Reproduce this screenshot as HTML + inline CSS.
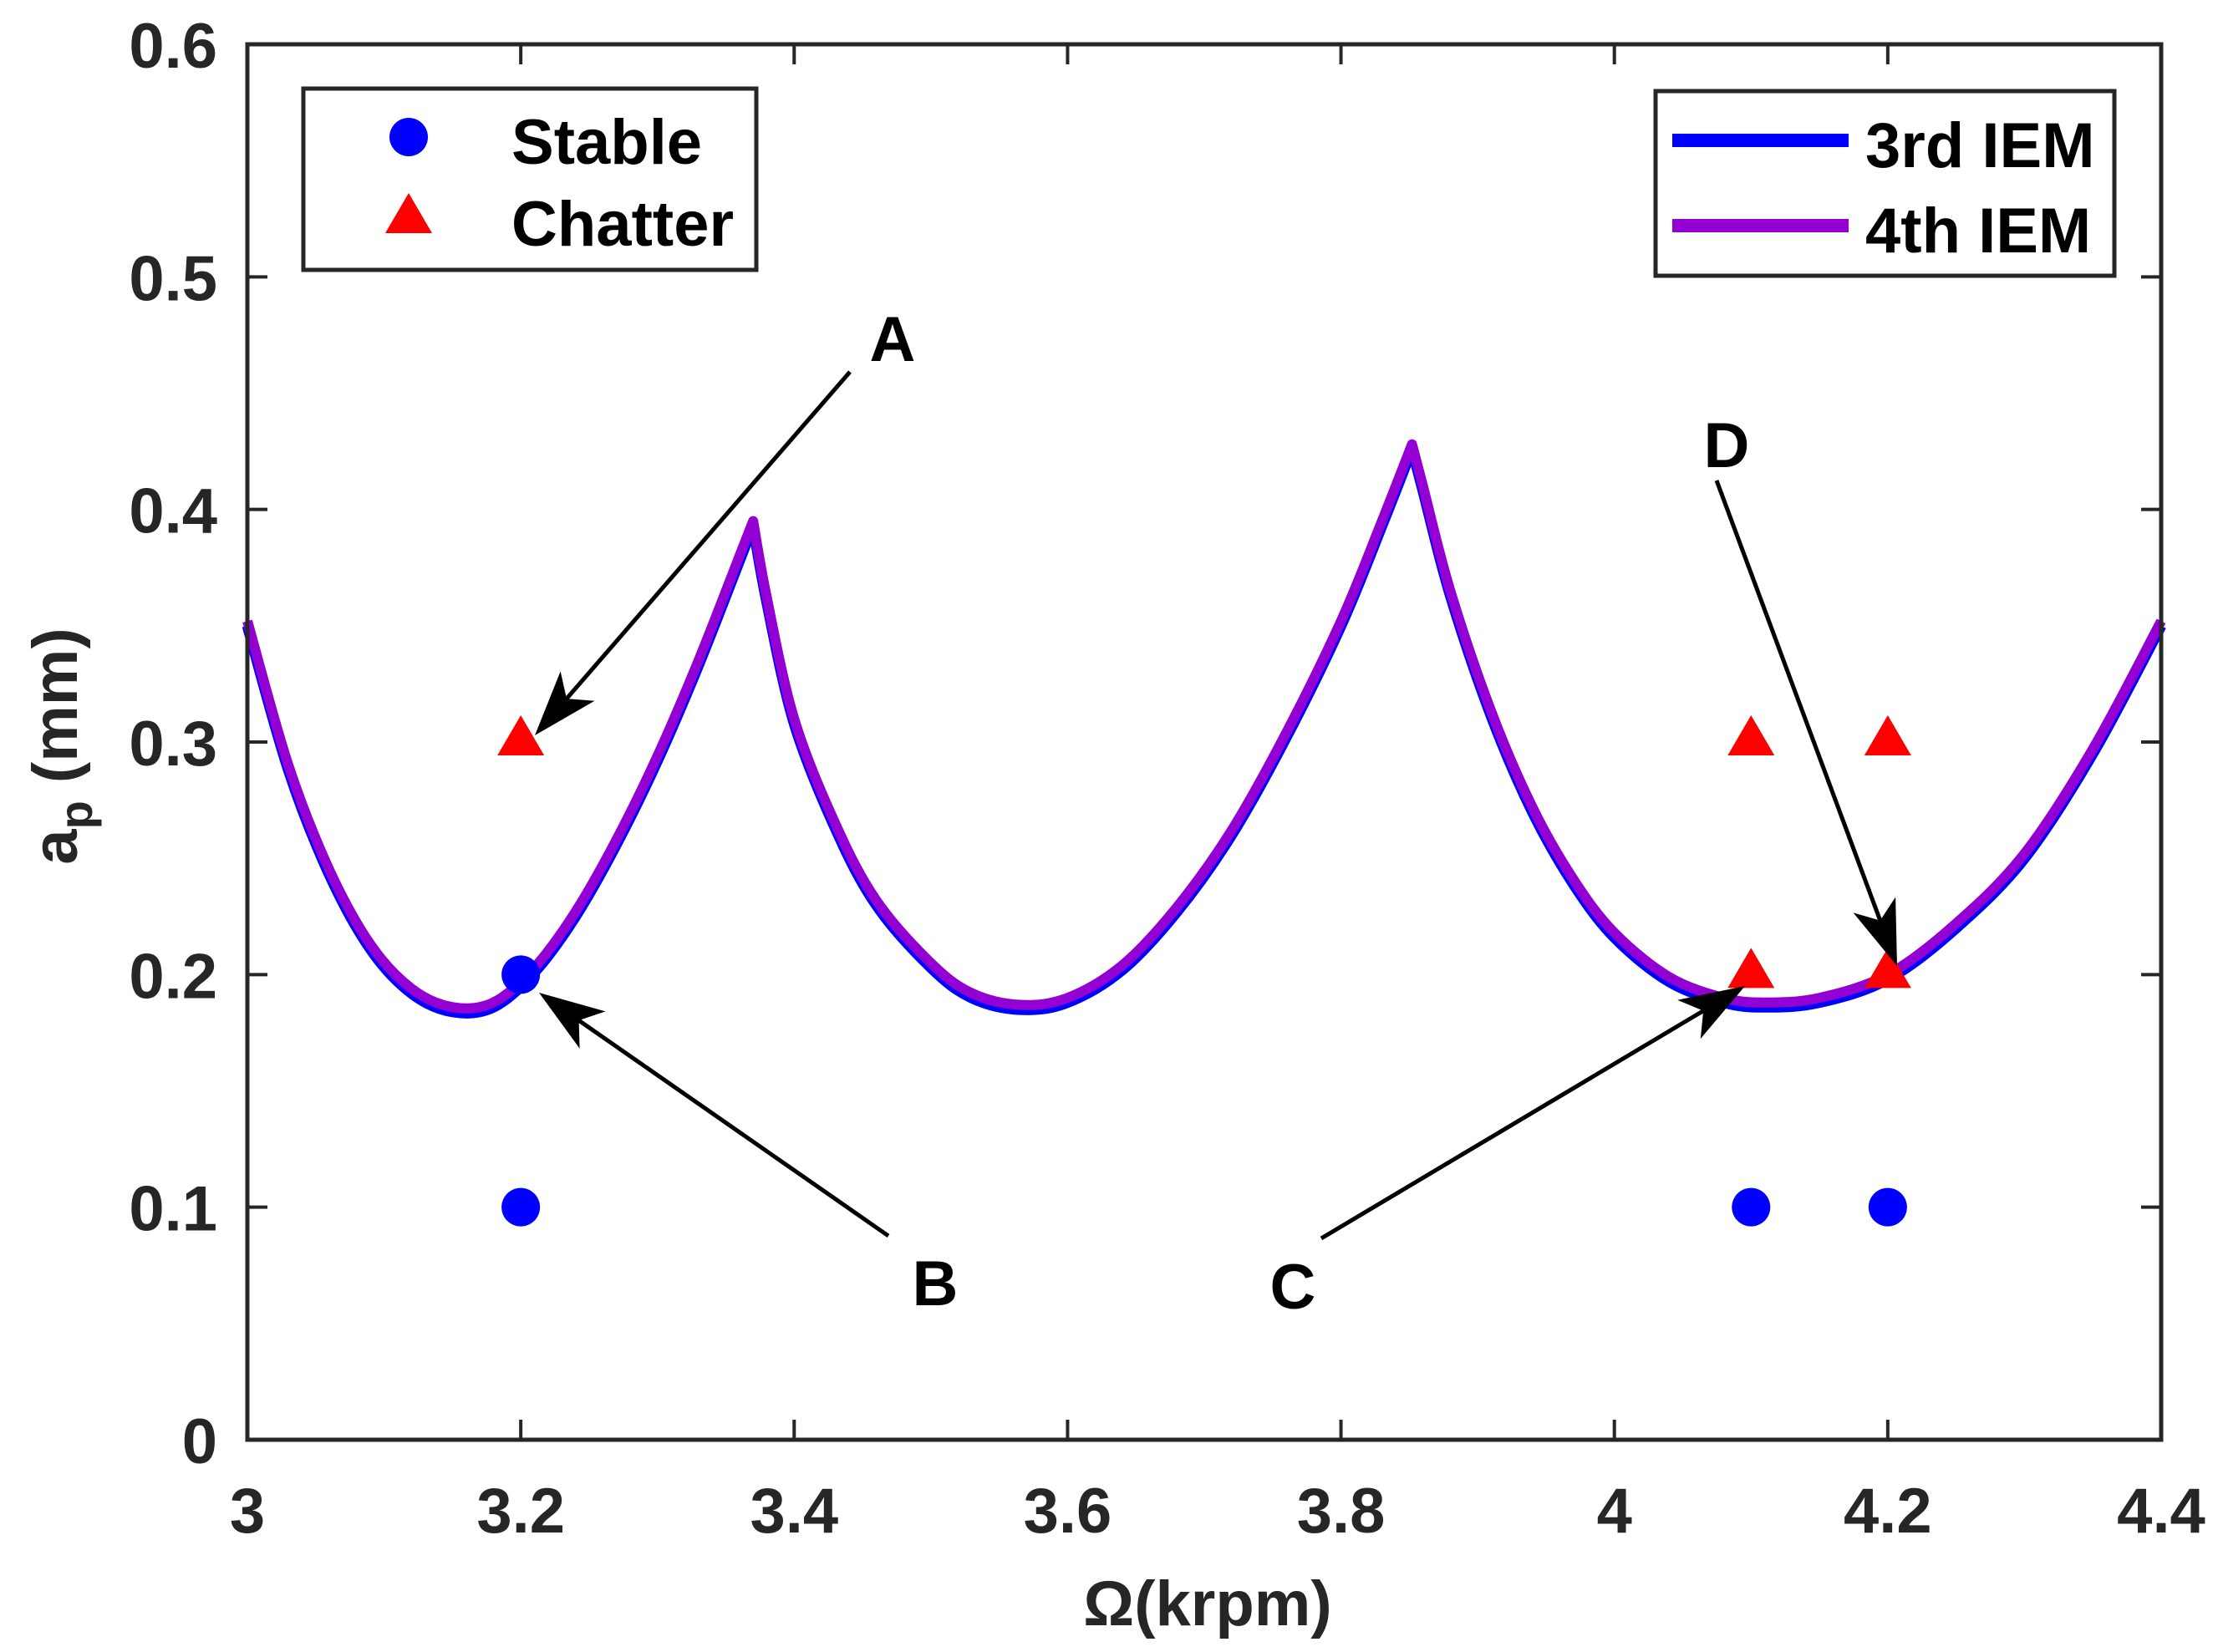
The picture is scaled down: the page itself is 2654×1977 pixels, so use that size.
<!DOCTYPE html>
<html><head><meta charset="utf-8"><style>
html,body{margin:0;padding:0;background:#fff}
svg{display:block}
text{font-family:"Liberation Sans",sans-serif;font-weight:bold}
</style></head><body>
<svg id="chart" width="2654" height="1977" viewBox="0 0 2654 1977" xmlns="http://www.w3.org/2000/svg">
<rect x="296" y="53" width="2290" height="1670" fill="#fff" stroke="none"/>
<g id="lines"></g>
<g id="marks"></g>
<g id="annot"></g>
<g id="axes"></g>
<g>
<rect x="363" y="106" width="542" height="217" fill="#fff" stroke="#262626" stroke-width="5"/>
<circle cx="489" cy="164" r="23" fill="#0000ff"/>
<polygon points="489,231 461,279 517,279" fill="#ff0000"/>
<text x="612" y="196" font-size="76" fill="#000">Stable</text>
<text x="612" y="294" font-size="76" fill="#000">Chatter</text>
</g>
<g>
<rect x="1981" y="109" width="549" height="221" fill="#fff" stroke="#262626" stroke-width="5"/>
<line x1="2001" y1="168" x2="2212" y2="168" stroke="#0000ff" stroke-width="16"/>
<line x1="2001" y1="270" x2="2212" y2="270" stroke="#9400d3" stroke-width="16"/>
<text x="2232" y="200" font-size="76" fill="#000">3rd IEM</text>
<text x="2232" y="302" font-size="76" fill="#000">4th IEM</text>
</g>
<text x="1445" y="1945" font-size="76" fill="#262626" text-anchor="middle">Ω(krpm)</text>
<text transform="translate(92,893) rotate(-90)" font-size="76" fill="#262626" text-anchor="middle">a<tspan font-size="56" dy="18">p</tspan><tspan dy="-18"> (mm)</tspan></text>
</svg>
<script>
const curveX = [3.00,3.03,3.06,3.09,3.12,3.15,3.18,3.21,3.24,3.27,3.30,3.33,3.36,3.37,3.38,3.40,3.43,3.46,3.50,3.53,3.565,3.60,3.64,3.68,3.72,3.76,3.80,3.83,3.852,3.86,3.88,3.91,3.94,3.97,4.00,4.04,4.08,4.11,4.15,4.20,4.25,4.30,4.35,4.40];
const iem4Y = [0.352,0.290,0.245,0.213,0.194,0.186,0.188,0.203,0.227,0.258,0.294,0.335,0.380,0.395,0.362,0.310,0.265,0.232,0.205,0.192,0.187,0.190,0.204,0.229,0.262,0.304,0.352,0.395,0.428,0.410,0.365,0.313,0.272,0.241,0.218,0.199,0.190,0.188,0.190,0.200,0.222,0.252,0.297,0.352];
const iem3Y = [0.350,0.288,0.243,0.211,0.192,0.184,0.186,0.201,0.225,0.256,0.292,0.333,0.378,0.393,0.360,0.308,0.263,0.230,0.203,0.190,0.185,0.188,0.202,0.227,0.260,0.302,0.350,0.393,0.426,0.408,0.363,0.311,0.270,0.239,0.216,0.197,0.188,0.186,0.188,0.198,0.220,0.250,0.295,0.350];
const stableX = [3.2,3.2,4.1,4.2];
const stableY = [0.2,0.1,0.1,0.1];
const chatterX = [3.2,4.1,4.2,4.1,4.2];
const chatterY = [0.3,0.3,0.3,0.2,0.2];
const xTicks = [3,3.2,3.4,3.6,3.8,4,4.2,4.4];
const xTickLabels = ["3","3.2","3.4","3.6","3.8","4","4.2","4.4"];
const yTicks = [0,0.1,0.2,0.3,0.4,0.5,0.6];
const yTickLabels = ["0","0.1","0.2","0.3","0.4","0.5","0.6"];

const X0=296,X1=2586,Y0=1723,Y1=53;
const sx=v=>X0+(v-3)/(4.4-3)*(X1-X0);
const sy=v=>Y0-(v-0)/(0.6-0)*(Y0-Y1);
const NS="http://www.w3.org/2000/svg";
function mk(tag,parent,attrs){const e=document.createElementNS(NS,tag);for(const k in attrs)e.setAttribute(k,attrs[k]);parent.appendChild(e);return e;}

// smooth path, with cusps at local maxima
function smoothPath(xs,ys){
  const P=xs.map((x,i)=>[sx(x),sy(ys[i])]);
  const n=P.length;
  const cusp=i=>i>0&&i<n-1&&ys[i]>ys[i-1]&&ys[i]>ys[i+1];
  let d='M'+P[0][0].toFixed(1)+' '+P[0][1].toFixed(1);
  for(let i=0;i<n-1;i++){
    const p1=P[i],p2=P[i+1];
    const p0=(i===0||cusp(i))?p1:P[i-1];
    const p3=(i+1===n-1||cusp(i+1))?p2:P[i+2];
    const c1=[p1[0]+(p2[0]-p0[0])/6,p1[1]+(p2[1]-p0[1])/6];
    const c2=[p2[0]-(p3[0]-p1[0])/6,p2[1]-(p3[1]-p1[1])/6];
    d+=` C${c1[0].toFixed(1)} ${c1[1].toFixed(1)} ${c2[0].toFixed(1)} ${c2[1].toFixed(1)} ${p2[0].toFixed(1)} ${p2[1].toFixed(1)}`;
  }
  return d;
}

const gl=document.getElementById('lines');
const p3=mk('path',gl,{d:smoothPath(curveX,iem3Y),fill:'none',stroke:'#0000ff','stroke-width':13,'stroke-linejoin':'round'});


const p4=mk('path',gl,{d:smoothPath(curveX,iem4Y),fill:'none',stroke:'#9400d3','stroke-width':12,'stroke-linejoin':'round'});



const gm=document.getElementById('marks');
stableX.forEach((x,i)=>{
  const c=mk('circle',gm,{cx:sx(x),cy:sy(stableY[i]),r:23,fill:'#0000ff'});
  
  
});
chatterX.forEach((x,i)=>{
  const cx=sx(x),cy=sy(chatterY[i]);
  const t=mk('polygon',gm,{points:`${cx},${cy-32} ${cx-28},${cy+16} ${cx+28},${cy+16}`,fill:'#ff0000'});
  
  
});

const ga=document.getElementById('annot');
function arrow(x1,y1,x2,y2,name,lx,ly,label){
  const g=mk('g',ga,{});
  
  
  const dx=x2-x1,dy=y2-y1,L=Math.hypot(dx,dy),ux=dx/L,uy=dy/L,px=-uy,py=ux;
  const bx=x2-ux*78,by=y2-uy*78,nx=x2-ux*58,ny=y2-uy*58;
  mk('line',g,{x1:x1,y1:y1,x2:nx,y2:ny,stroke:'#000','stroke-width':5});
  mk('polygon',g,{points:`${x2},${y2} ${bx+px*27},${by+py*27} ${nx},${ny} ${bx-px*27},${by-py*27}`,fill:'#000'});
  const t=mk('text',g,{x:lx,y:ly,'font-size':76,fill:'#000','text-anchor':'middle'});
  t.textContent=label;
}
arrow(1017,445,640,880,'annotation-a',1068,432,'A');
arrow(1063,1479,645,1188,'annotation-b',1119,1562,'B');
arrow(1581,1482,2088,1180,'annotation-c',1547,1566,'C');
arrow(2054,575,2270,1156,'annotation-d',2066,559,'D');

const gx=document.getElementById('axes');
const fr=mk('rect',gx,{x:X0,y:Y1,width:X1-X0,height:Y0-Y1,fill:'none',stroke:'#262626','stroke-width':5});


xTicks.forEach((v,i)=>{
  const x=sx(v);
  mk('line',gx,{x1:x,y1:Y0,x2:x,y2:Y0-24,stroke:'#262626','stroke-width':4});
  mk('line',gx,{x1:x,y1:Y1,x2:x,y2:Y1+24,stroke:'#262626','stroke-width':4});
  const t=mk('text',gx,{x:x,y:1834,'font-size':76,fill:'#262626','text-anchor':'middle'});
  t.textContent=xTickLabels[i];
  
  
});
yTicks.forEach((v,i)=>{
  const y=sy(v);
  mk('line',gx,{x1:X0,y1:y,x2:X0+24,y2:y,stroke:'#262626','stroke-width':4});
  mk('line',gx,{x1:X1,y1:y,x2:X1-24,y2:y,stroke:'#262626','stroke-width':4});
  const t=mk('text',gx,{x:260,y:y+28,'font-size':76,fill:'#262626','text-anchor':'end'});
  t.textContent=yTickLabels[i];
  
  
});
</script>
</body></html>
